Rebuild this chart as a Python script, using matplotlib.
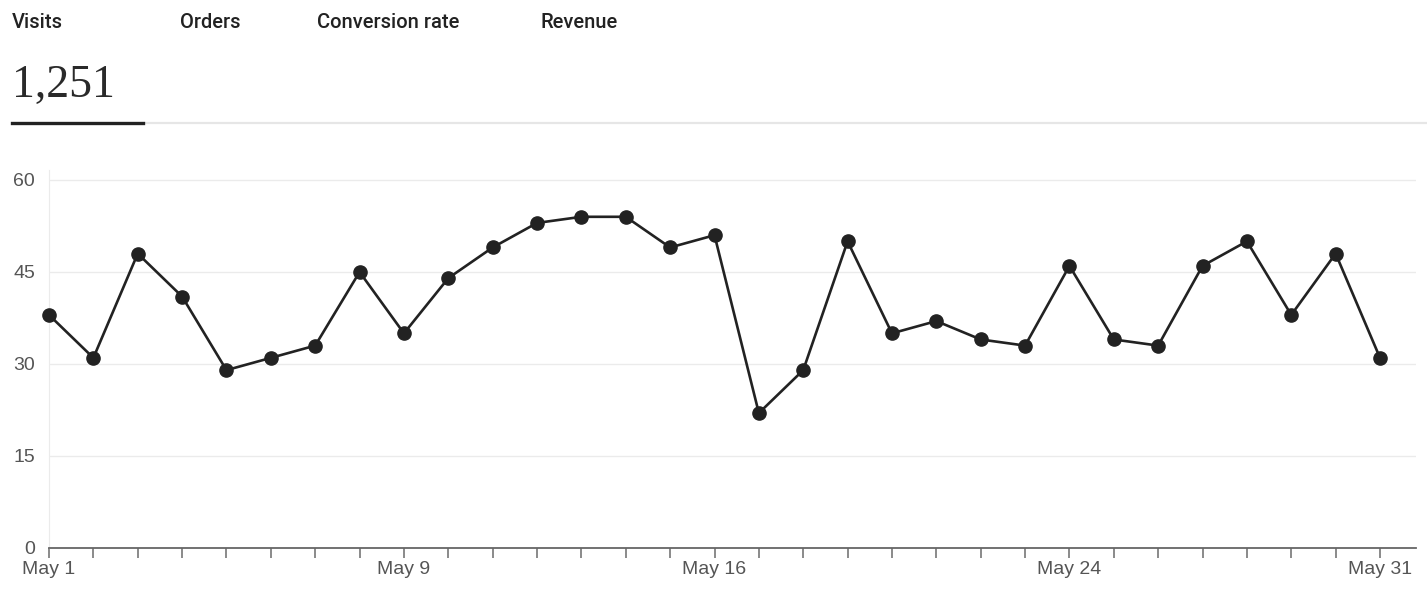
import matplotlib
matplotlib.use("Agg")
import matplotlib.pyplot as plt
from matplotlib.lines import Line2D

# Daily visits for May
days = list(range(1, 32))
visits = [38, 31, 48, 41, 29, 31, 33, 45, 35, 44, 49, 53, 54, 54, 49, 51,
          22, 29, 50, 35, 37, 34, 33, 46, 34, 33, 46, 50, 38, 48, 31]
label_days = [1, 9, 16, 24, 31]
y_ticks = [0, 15, 30, 45, 60]
tabs = ["Visits", "Orders", "Conversion rate", "Revenue"]
tab_x = [12, 180, 317, 540]

W, H = 1427, 608
fig = plt.figure(figsize=(W / 100, H / 100), dpi=100)

# Header tabs
for name, x in zip(tabs, tab_x):
    fig.text(x / W, 1 - 22 / H, name, ha="left", va="center",
             fontsize=14.5, color="#222222", family="Roboto", fontweight="medium")

total = sum(visits)
fig.text(12 / W, 1 - 97 / H, f"{total:,}", ha="left", va="baseline",
         fontsize=33, color="#2a2a2a", family="Liberation Serif")

# Tab underline
fig.add_artist(Line2D([143 / W, 1.0], [1 - 123 / H] * 2, color="#e6e6e6",
                      lw=1.6, transform=fig.transFigure))
fig.add_artist(Line2D([12 / W, 143 / W], [1 - 123 / H] * 2, color="#222222",
                      lw=2.4, transform=fig.transFigure))

# Chart area
left, right, bottom, top = 49, 1416, 548, 170
ax = fig.add_axes([left / W, 1 - bottom / H, (right - left) / W, (bottom - top) / H])
ax.plot(days, visits, color="#222222", lw=1.9, marker="o", markersize=9.5,
        clip_on=False, zorder=3)

px_per_day = (1380 - 49) / 30
ax.set_xlim(1, 1 + (right - left) / px_per_day)
ax.set_ylim(0, 60 * (bottom - top) / (548 - 180))

ax.set_yticks(y_ticks)
ax.set_yticklabels([str(v) for v in y_ticks])
ax.yaxis.grid(True, color="#ebebeb", lw=1)
ax.tick_params(axis="y", length=0, pad=10, labelsize=14, labelcolor="#555555")
for lbl in ax.get_yticklabels():
    lbl.set_family("Liberation Sans")

ax.set_xticks(days)
ax.set_xticklabels([f"May {d}" if d in label_days else "" for d in days])
ax.tick_params(axis="x", length=7.5, width=1.2, color="#777777", pad=1.5,
               labelsize=14, labelcolor="#555555")
for lbl in ax.get_xticklabels():
    lbl.set_family("Liberation Sans")

for s in ["top", "right"]:
    ax.spines[s].set_visible(False)
ax.spines["left"].set_color("#ebebeb")
ax.spines["bottom"].set_color("#666666")
ax.spines["bottom"].set_linewidth(1.3)
ax.set_axisbelow(True)

fig.savefig("out.png", dpi=100)
